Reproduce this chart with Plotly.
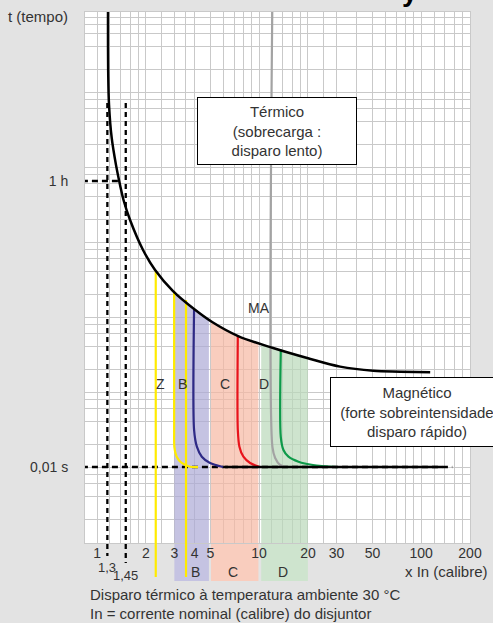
import numpy as np
import plotly.graph_objects as go

# ---------------- data ----------------
# axis ticks / grid
X_TICKS = [1, 2, 3, 4, 5, 10, 20, 30, 50, 100, 200]
X_TICK_TEXT = ["1", "2", "3", "4", "5", "10", "20", "30", "50", "100", "200"]
X_GRID = [1.2, 1.4, 1.6, 1.8, 2.5, 3.5, 6, 7, 8, 9, 12, 14, 16, 18, 25, 40,
          60, 70, 80, 90, 120, 140, 160, 180]
Y_TICKS = [0.01, 65]
Y_TICK_TEXT = ["0,01 s", "1 h"]
Y_GRID = [m * 10.0 ** d for d in range(-3, 5) for m in (1, 2, 4, 6, 8)]

# thermal (MA) curve  x = multiple of In, t = time (chart units)
MA_X = [1.169, 1.172, 1.186, 1.232, 1.310, 1.387, 1.457, 1.599, 1.923, 2.281,
        2.944, 3.97, 5.13, 7.42, 12.2, 19.8, 31.6, 50.6, 74.2, 113.6]
MA_T = [13200, 1849, 671, 244, 106, 57.6, 36.3, 19.7, 7.83, 4.24,
        2.22, 1.28, 0.859, 0.558, 0.386, 0.284, 0.218, 0.192, 0.187, 0.183]

# magnetic trip curves
Z_X = [2.303, 2.303]
Z_T = [4.24, 0.0003]
YB_X = [2.99, 2.99, 3.0, 3.10, 3.33, 3.75, 4.20]
YB_T = [2.2, 0.03, 0.0185, 0.01374, 0.01132, 0.0101, 0.01]
YH_X = [3.54, 3.54]
YH_T = [1.69, 0.0003]
NAVY_X = [3.97, 3.97, 4.13, 4.43, 4.98, 6.0]
NAVY_T = [1.28, 0.0312, 0.01867, 0.01374, 0.01132, 0.01]
RED_X = [7.39, 7.39, 7.56, 8.0, 8.8, 10.1]
RED_T = [0.558, 0.0312, 0.01867, 0.01374, 0.01132, 0.01]
GRAY_X = [12.08, 12.08, 12.56, 13.48, 14.8]
GRAY_T = [20000, 0.0185, 0.0132, 0.01064, 0.01]
GREEN_X = [13.61, 13.61, 14.13, 15.17, 17.5, 21.5, 30.3]
GREEN_T = [0.37, 0.0251, 0.01687, 0.01374, 0.01178, 0.01064, 0.01]

# instantaneous trip line and reference lines
INST_X = [6.17, 134.8]
INST_T = [0.01, 0.01]
REF01_X = [0.7, 155.4]
REF01_T = [0.01, 0.01]
REF1H_X = [0.7, 1.367]
REF1H_T = [65, 65]
THERMAL_LIM_X = [1.158, 1.504]
THERMAL_LIM_TEXT = ["1,3", "1,45"]

# curve-class bands
BAND_NAMES = ["B", "C", "D"]
BAND_X0 = [3.0, 5.05, 10.3]
BAND_X1 = [4.9, 9.9, 20.0]
BAND_COLORS = [(197, 195, 226), (249, 205, 190), (206, 228, 206)]
BAND_LABEL_X = [4.03, 6.91, 14.07]

# in-plot labels
CURVE_LABELS = ["Z", "B", "C", "D", "MA"]
CURVE_LABEL_X = [2.45, 3.39, 6.17, 10.74, 10.0]
CURVE_LABEL_T = [0.128, 0.128, 0.128, 0.128, 1.32]

FONT = "Liberation Sans, Arial, sans-serif"
TXT = "#333333"

# ---------------- figure ----------------
fig = go.Figure()

xs_m = np.log10(np.array(MA_X[4:]))
ts_m = np.log10(np.array(MA_T[4:]))


def ma_at(x):
    return 10 ** np.interp(np.log10(x), xs_m, ts_m)


ALPHA = 0.7
for x0, x1, col in zip(BAND_X0, BAND_X1, BAND_COLORS):
    xs = np.geomspace(x0, x1, 40)
    top = ma_at(xs)
    f = tuple(int(round((c - (1 - ALPHA) * 255) / ALPHA)) for c in col)
    fig.add_trace(go.Scatter(
        x=[x0] + list(xs) + [x1], y=[1e-4] + list(top) + [1e-4],
        fill="toself", mode="lines", line=dict(width=0),
        fillcolor=f"rgba({f[0]},{f[1]},{f[2]},{ALPHA})", hoverinfo="skip"))
    fig.add_shape(type="rect", xref="x", yref="paper", x0=x0, x1=x1,
                  y0=-0.0716, y1=0, fillcolor=f"rgb{col}", line=dict(width=0),
                  layer="below")

DASH_H = "6px,4px"
DASH_V = "5px,4px"

# reference dashed lines
fig.add_trace(go.Scatter(x=REF01_X, y=REF01_T, mode="lines",
                         line=dict(color="black", width=2.5, dash=DASH_H), hoverinfo="skip"))
fig.add_trace(go.Scatter(x=REF1H_X, y=REF1H_T, mode="lines",
                         line=dict(color="black", width=2.5, dash=DASH_H), hoverinfo="skip"))
for xv, y1 in zip(THERMAL_LIM_X, [-0.0245, -0.0377]):
    fig.add_shape(type="line", xref="x", yref="paper", x0=xv, x1=xv,
                  y0=0.8286, y1=y1, line=dict(color="black", width=2.3, dash=DASH_V),
                  layer="above")

YELLOW = "#ffeb00"
curves = [
    (Z_X, Z_T, YELLOW),
    (YB_X, YB_T, YELLOW),
    (YH_X, YH_T, YELLOW),
    (NAVY_X, NAVY_T, "#2e2a86"),
    (RED_X, RED_T, "#e8141c"),
    (GRAY_X, GRAY_T, "#a3a3a3"),
    (GREEN_X, GREEN_T, "#0e9a4a"),
]
for cx, ct, col in curves:
    fig.add_trace(go.Scatter(x=cx, y=ct, mode="lines",
                             line=dict(color=col, width=2.2, shape="spline", smoothing=0.8),
                             hoverinfo="skip"))
# extensions of the straight yellow lines below the axis
for xv in (Z_X[0], YH_X[0]):
    fig.add_shape(type="line", xref="x", yref="paper", x0=xv, x1=xv, y0=0, y1=-0.064,
                  line=dict(color=YELLOW, width=2.2), layer="above")

# instantaneous line and MA curve
fig.add_trace(go.Scatter(x=INST_X, y=INST_T, mode="lines",
                         line=dict(color="black", width=2.5), hoverinfo="skip"))
fig.add_trace(go.Scatter(x=MA_X, y=MA_T, mode="lines",
                         line=dict(color="black", width=2.5, shape="spline", smoothing=1.0),
                         hoverinfo="skip"))


def txt(size=15):
    return dict(size=size, color=TXT, family=FONT)


ann = []
for t, xv, yv in zip(CURVE_LABELS, CURVE_LABEL_X, CURVE_LABEL_T):
    ann.append(dict(x=np.log10(xv), y=np.log10(yv), xref="x", yref="y", text=t,
                    xanchor="center", yanchor="middle", showarrow=False, font=txt(14)))
for t, xv in zip(BAND_NAMES, BAND_LABEL_X):
    ann.append(dict(x=np.log10(xv), y=-0.0546, xref="x", yref="paper", text=t,
                    xanchor="center", yanchor="middle", showarrow=False, font=txt(14)))
for t, xv, yv in zip(THERMAL_LIM_TEXT, THERMAL_LIM_X, [-0.0452, -0.0603]):
    ann.append(dict(x=np.log10(xv), y=yv, xref="x", yref="paper", text=t,
                    xanchor="center", yanchor="middle", showarrow=False, font=txt(13)))

ann += [
    dict(x=-0.039, y=0.9906, xref="paper", yref="paper", text="t (tempo)",
         xanchor="right", yanchor="middle", showarrow=False, font=txt()),
    dict(x=1.052, y=-0.0546, xref="paper", yref="paper", text="x In (calibre)",
         xanchor="right", yanchor="middle", showarrow=False, font=txt()),
    dict(x=0.0078, y=-0.0962, xref="paper", yref="paper",
         text="Disparo térmico à temperatura ambiente 30 °C",
         xanchor="left", yanchor="middle", showarrow=False, font=txt()),
    dict(x=0.0078, y=-0.1334, xref="paper", yref="paper",
         text="In = corrente nominal (calibre) do disjuntor",
         xanchor="left", yanchor="middle", showarrow=False, font=txt()),
    dict(x=0.4987, y=0.776, xref="paper", yref="paper",
         text="Térmico<br>(sobrecarga :<br>disparo lento)",
         xanchor="center", yanchor="middle",
         showarrow=False, bgcolor="white", bordercolor="black", borderwidth=1,
         borderpad=0, width=158, height=66, align="center", font=txt()),
    dict(x=0.862, y=0.2467, xref="paper", yref="paper",
         text="Magnético<br>(forte sobreintensidade<br>disparo rápido)",
         xanchor="center", yanchor="middle",
         showarrow=False, bgcolor="white", bordercolor="black", borderwidth=1,
         borderpad=0, width=172, height=68, align="center", font=txt()),
    # descender of a cut-off heading at the very top of the picture
    dict(x=0.844, y=1.006, xref="paper", yref="paper", text="<b>y</b>",
         xanchor="center", yanchor="bottom", showarrow=False,
         font=dict(size=28, color="black", family=FONT)),
]

GRID = "#c9c9c9"
fig.update_layout(
    width=493, height=623, autosize=False,
    margin=dict(l=85, r=23, t=12, b=80, autoexpand=False),
    paper_bgcolor="#e3e3e3", plot_bgcolor="white",
    showlegend=False,
    annotations=ann,
    font=dict(family=FONT, size=14, color=TXT),
    xaxis=dict(type="log", range=[np.log10(0.843), np.log10(200)],
               tickvals=X_TICKS, ticktext=X_TICK_TEXT, showgrid=True,
               gridcolor=GRID, gridwidth=1, ticks="", zeroline=False,
               showline=True, linecolor=GRID, linewidth=1, mirror=True,
               automargin=False,
               ticklabelstandoff=-3, tickfont=dict(size=14, color=TXT),
               minor=dict(tickvals=X_GRID, showgrid=True, gridcolor=GRID,
                          gridwidth=1, ticks="")),
    yaxis=dict(type="log", range=[-3.013, 4.067],
               tickvals=Y_TICKS, ticktext=Y_TICK_TEXT, showgrid=False,
               ticks="", zeroline=False,
               showline=True, linecolor=GRID, linewidth=1, mirror=True,
               automargin=False,
               ticklabelstandoff=13, tickfont=dict(size=14, color=TXT),
               minor=dict(tickvals=Y_GRID, showgrid=True, gridcolor=GRID,
                          gridwidth=1, ticks="")),
)

fig.write_html("out.html", config={"displayModeBar": False},
               post_script="document.body.style.margin='0';")
